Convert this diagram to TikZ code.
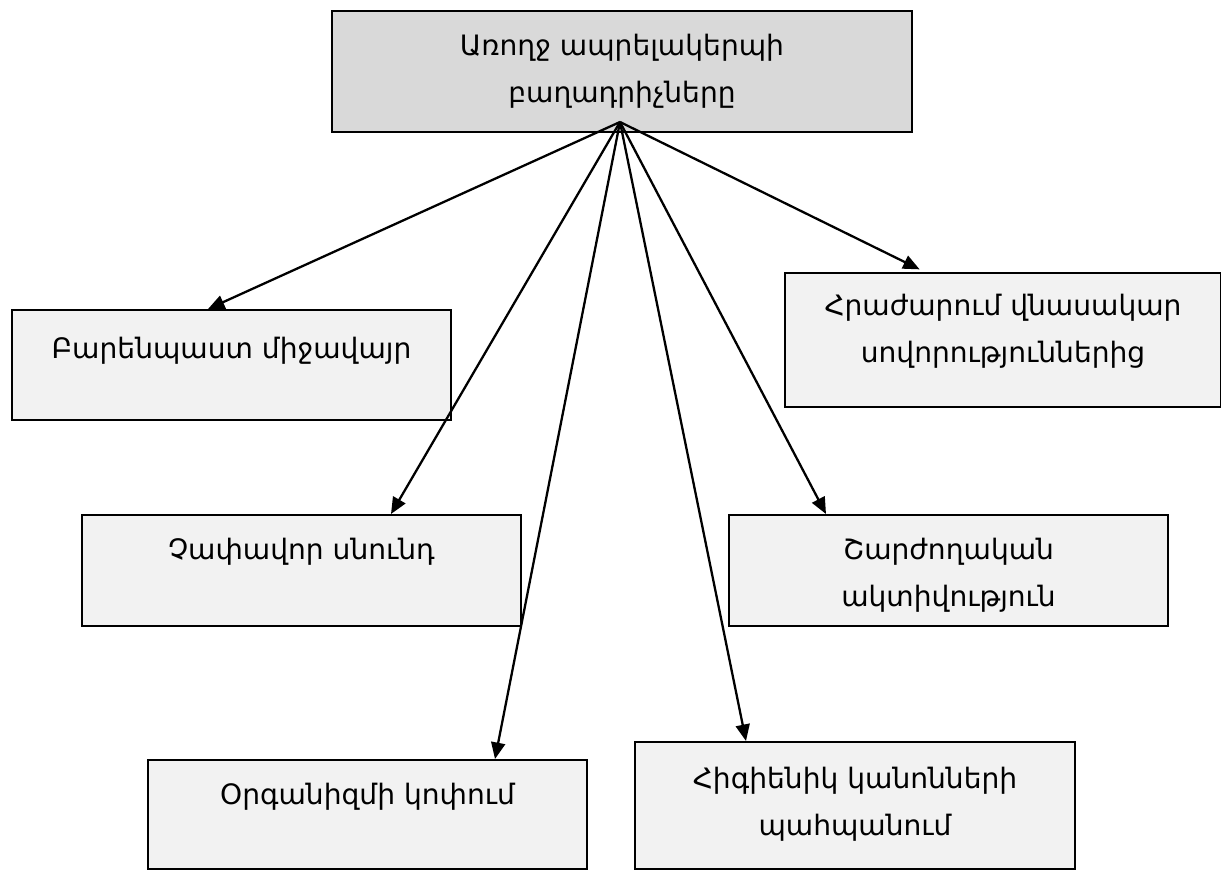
\documentclass[tikz,border=0pt]{standalone}
\usepackage{fontspec}
\setmainfont{DejaVu Sans}
\usepackage{tikz}
\usetikzlibrary{arrows.meta}
\usetikzlibrary{positioning}

\definecolor{headgray}{HTML}{D9D9D9}
\definecolor{boxgray}{HTML}{F2F2F2}

\begin{document}
\begin{tikzpicture}[x=0.02cm,y=-0.02cm,
    box/.style={draw, line width=1.2pt, fill=boxgray, anchor=north west, inner sep=0pt,
        minimum width=8.78cm, minimum height=2.22cm},
    lbl/.style={align=center, inner sep=0pt, anchor=north,
        font=\fontsize{16pt}{26.5pt}\selectfont},
    arr/.style={-{Triangle[length=0.33cm,width=0.28cm]}, line width=1.3pt}]
    \useasboundingbox (0,0) rectangle (1221,870);

    % 绘制方框
    \node[box, fill=headgray, minimum width=11.6cm, minimum height=2.42cm] (head) at (331,10) {};
    \node[box, minimum height=2.2cm] (env) at (11,309) {};
    \node[box, minimum width=8.72cm, minimum height=2.68cm] (habits) at (784,272) {};
    \node[box] (food) at (81,514) {};
    \node[box] (move) at (728,514) {};
    \node[box, minimum height=2.18cm] (harden) at (147,759) {};
    \node[box, minimum width=8.8cm, minimum height=2.54cm] (hygiene) at (634,741) {};

    % 文字
    \node[lbl, below=0.48cm of head.north] (head-t) {Առողջ ապրելակերպի\\բաղադրիչները};
    \node[lbl, below=0.56cm of env.north] (env-t) {Բարենպաստ միջավայր};
    \node[lbl, below=0.44cm of habits.north] (habits-t) {Հրաժարում վնասակար\\սովորություններից};
    \node[lbl, below=0.48cm of food.north] (food-t) {Չափավոր սնունդ};
    \node[lbl, below=0.48cm of move.north] (move-t) {Շարժողական\\ակտիվություն};
    \node[lbl, below=0.48cm of harden.north] (harden-t) {Օրգանիզմի կոփում};
    \node[lbl, below=0.52cm of hygiene.north] (hygiene-t) {Հիգիենիկ կանոնների\\պահպանում};

    % 绘制箭头
    \coordinate (hub) at (620,122);
    \draw[arr] (hub) -- (208,0 |- env.north);
    \draw[arr, shorten >=0.12cm] (hub) -- (925,0 |- habits.north);
    \draw[arr] (hub) -- (391,0 |- food.north);
    \draw[arr] (hub) -- (826,0 |- move.north);
    \draw[arr] (hub) -- (495,0 |- harden.north);
    \draw[arr] (hub) -- (746,0 |- hygiene.north);
\end{tikzpicture}
\end{document}
